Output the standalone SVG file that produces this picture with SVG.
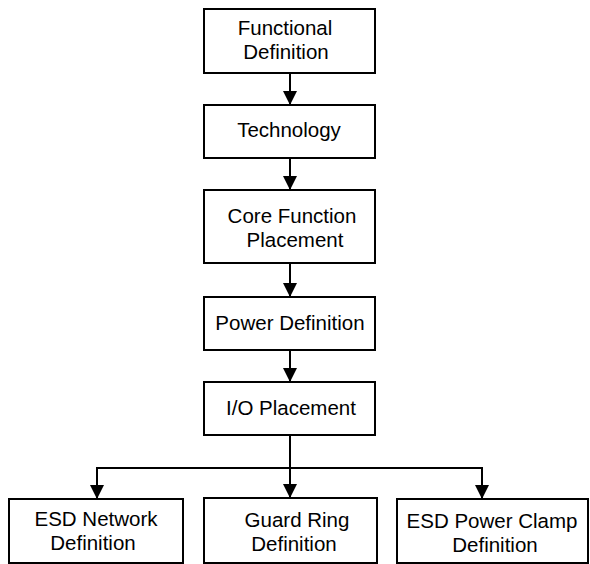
<svg xmlns="http://www.w3.org/2000/svg" width="590" height="564" viewBox="0 0 590 564">
  <style>
    .box { fill: #ffffff; stroke: #000000; stroke-width: 2; }
    .lbl { font-family: "Liberation Sans", Arial, sans-serif; font-size: 20.5px; fill: #000000; text-anchor: middle; }
    .wire { fill: none; stroke: #000000; stroke-width: 2; }
  </style>
  <defs>
    <marker id="arrow" markerUnits="userSpaceOnUse" markerWidth="14" markerHeight="15" refX="14" refY="7" orient="auto">
      <path d="M0,0 L14,7 L0,14 Z" fill="#000000"/>
    </marker>
  </defs>
  <rect width="590" height="564" fill="#ffffff"/>

  <g id="connectors">
    <line class="wire" x1="290" y1="73" x2="290" y2="105" marker-end="url(#arrow)"/>
    <line class="wire" x1="290" y1="158" x2="290" y2="190" marker-end="url(#arrow)"/>
    <line class="wire" x1="290" y1="263" x2="290" y2="297" marker-end="url(#arrow)"/>
    <line class="wire" x1="290" y1="350" x2="290" y2="382" marker-end="url(#arrow)"/>
    <line class="wire" x1="290" y1="435" x2="290" y2="498" marker-end="url(#arrow)"/>
    <polyline class="wire" points="290,468 97,468 97,499" marker-end="url(#arrow)"/>
    <polyline class="wire" points="290,468 482,468 482,499" marker-end="url(#arrow)"/>
  </g>

  <g id="functional-definition">
    <rect class="box" x="204" y="9" width="171" height="64"/>
    <text class="lbl" x="285" y="35">Functional</text>
    <text class="lbl" x="286" y="59">Definition</text>
  </g>

  <g id="technology">
    <rect class="box" x="204" y="105" width="171" height="53"/>
    <text class="lbl" x="289" y="137">Technology</text>
  </g>

  <g id="core-function-placement">
    <rect class="box" x="204" y="190" width="171" height="73"/>
    <text class="lbl" x="292" y="223">Core Function</text>
    <text class="lbl" x="295" y="247">Placement</text>
  </g>

  <g id="power-definition">
    <rect class="box" x="204" y="297" width="171" height="53"/>
    <text class="lbl" x="290" y="330">Power Definition</text>
  </g>

  <g id="io-placement">
    <rect class="box" x="204" y="382" width="171" height="53"/>
    <text class="lbl" x="291" y="415">I/O Placement</text>
  </g>

  <g id="esd-network-definition">
    <rect class="box" x="9" y="499" width="174" height="64"/>
    <text class="lbl" x="96" y="526">ESD Network</text>
    <text class="lbl" x="93" y="550">Definition</text>
  </g>

  <g id="guard-ring-definition">
    <rect class="box" x="204" y="498" width="173" height="65"/>
    <text class="lbl" x="297" y="527">Guard Ring</text>
    <text class="lbl" x="294" y="551">Definition</text>
  </g>

  <g id="esd-power-clamp-definition">
    <rect class="box" x="397" y="499" width="191" height="64"/>
    <text class="lbl" x="492" y="528">ESD Power Clamp</text>
    <text class="lbl" x="495" y="552">Definition</text>
  </g>
</svg>
